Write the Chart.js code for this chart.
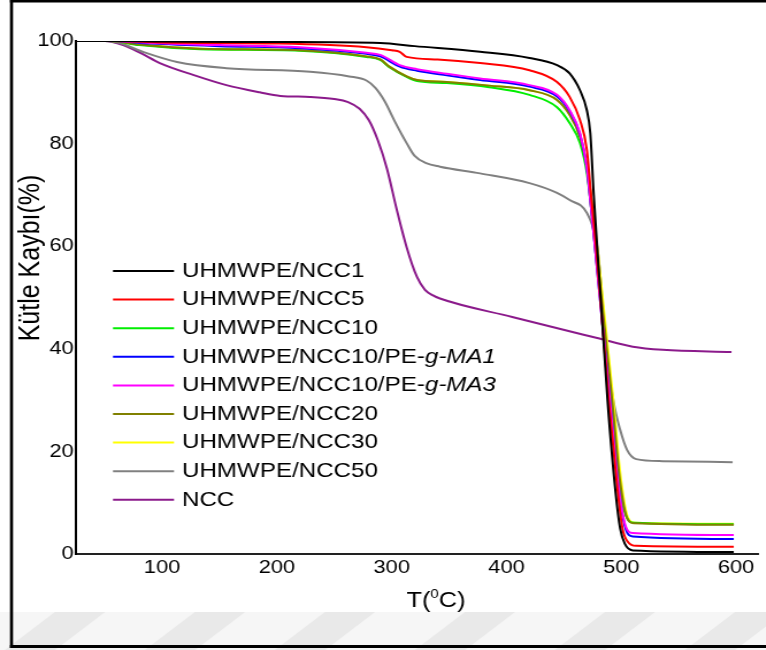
<!DOCTYPE html>
<html>
<head>
<meta charset="utf-8">
<script src="https://cdn.jsdelivr.net/npm/chart.js@4.4.1/dist/chart.umd.min.js"></script>
<style>
  html, body { margin: 0; padding: 0; background: #fff; overflow: hidden; }
  /* the figure is laid out 666px wide and shown stretched to 766px */
  #wrap { position: absolute; left: 0; top: 0; width: 666px; height: 650px;
          transform: scaleX(1.15); transform-origin: 0 0; }
</style>
</head>
<body>
<div id="wrap"><canvas id="tga"></canvas></div>
<script>
// Axis ticks
const xTicks = [100, 200, 300, 400, 500, 600];
const yTicks = [0, 20, 40, 60, 80, 100];

// Thermogravimetric curves: temperature (°C) and remaining mass (%)
const tNCC1 = [25, 60, 100, 200, 290, 320, 377, 420, 444, 455, 464, 470, 473, 476, 482, 488, 495, 499, 503, 510, 598];
const wNCC1 = [100, 100, 99.9, 99.8, 99.6, 99.0, 97.9, 96.7, 95.3, 93.7, 90.4, 86.5, 82, 70, 50, 30, 12, 5, 2, 0.7, 0.4];

const tNCC5 = [25, 60, 100, 200, 278, 300, 307, 313, 340, 377, 420, 444, 455, 464, 470, 474, 478, 489, 496, 501, 506, 513, 598];
const wNCC5 = [100, 100, 99.7, 99.5, 98.8, 98.2, 97.9, 96.9, 96.4, 95.7, 94.3, 92.0, 89.1, 84.6, 78.8, 69, 60, 30, 14, 5, 2.3, 1.6, 1.4];

const tNCC10 = [25, 55, 80, 133, 220, 278, 290, 298, 313, 322, 348, 385, 420, 444, 455, 464, 470, 473, 478, 491, 498, 504, 511, 598];
const wNCC10 = [100, 100, 99.2, 98.4, 98.1, 96.9, 96.3, 94.9, 93.0, 92.2, 91.8, 91.0, 89.5, 87.1, 84.0, 80.1, 74.3, 69, 58, 30, 14, 7.5, 6.1, 5.8];

const tMA1 = [25, 55, 90, 150, 220, 278, 290, 307, 322, 348, 377, 420, 444, 455, 464, 470, 473, 477, 490, 497, 503, 510, 598];
const wMA1 = [100, 100, 99.5, 99.0, 98.6, 97.5, 97.0, 95.0, 94.2, 93.3, 92.4, 91.1, 89.2, 86.3, 81.8, 75.2, 69, 60, 30, 14, 5.5, 3.4, 2.9];

const tMA3 = [25, 55, 90, 150, 220, 278, 290, 307, 322, 348, 377, 420, 444, 455, 464, 470, 473, 477, 490, 497, 503, 510, 598];
const wMA3 = [100, 100, 99.6, 99.2, 98.8, 97.7, 97.3, 95.3, 94.5, 93.6, 92.7, 91.4, 89.5, 86.5, 82, 75.4, 69, 60, 30, 14, 6, 4.1, 3.7];

const tNCC20 = [25, 55, 80, 133, 220, 278, 290, 298, 313, 322, 348, 385, 420, 444, 455, 464, 470, 474, 479, 492, 499, 505, 511, 598];
const wNCC20 = [100, 100, 99.3, 98.5, 98.2, 97.0, 96.4, 95.0, 93.1, 92.4, 92.0, 91.3, 90.4, 88.5, 85.6, 81.3, 75.5, 69, 58, 30, 14, 7, 6.0, 5.7];

const tNCC30 = [25, 55, 80, 133, 220, 278, 290, 298, 313, 322, 348, 385, 420, 444, 455, 464, 470, 474, 480, 493, 500, 506, 512, 598];
const wNCC30 = [100, 100, 99.3, 98.5, 98.2, 97.0, 96.4, 95.0, 93.1, 92.4, 92.0, 91.3, 90.4, 88.5, 85.6, 81.3, 75.5, 69, 58, 30, 14, 7, 6.1, 5.9];

const tNCC50 = [25, 50, 63, 83, 113, 156, 229, 263, 278, 286, 294, 303, 313, 320, 330, 342, 377, 420, 444, 455, 470, 478, 481, 487, 493, 499, 505, 513, 536, 597];
const wNCC50 = [100, 100, 99.6, 97.9, 95.9, 94.7, 94.0, 93.1, 92.3, 90.8, 88.2, 84.2, 80.1, 77.6, 76.2, 75.5, 74.2, 72.3, 70.4, 69.0, 66.5, 61.2, 56, 40, 30, 24.2, 20.3, 18.5, 18.1, 17.9];

const tNCC = [25, 50, 66, 81, 98, 127, 156, 185, 203, 229, 250, 262, 272, 280, 288, 296, 304, 313, 322, 329, 336, 342, 405, 479, 510, 536, 596];
const wNCC = [100, 100, 99.2, 97.7, 95.7, 93.4, 91.4, 90.0, 89.3, 89.1, 88.7, 88.1, 86.8, 84.6, 80.6, 75.0, 67.5, 59.8, 54.0, 51.5, 50.4, 49.8, 46.2, 42.1, 40.4, 39.8, 39.4];

// Series names and colours, in legend order
const seriesNames = ['UHMWPE/NCC1', 'UHMWPE/NCC5', 'UHMWPE/NCC10', 'UHMWPE/NCC10/PE-g-MA1',
                     'UHMWPE/NCC10/PE-g-MA3', 'UHMWPE/NCC20', 'UHMWPE/NCC30', 'UHMWPE/NCC50', 'NCC'];
const seriesColors = ['#000000', '#ff0000', '#00ee00', '#0000ff', '#ff00ff', '#808000', '#ffff00', '#808080', '#8b1a8b'];
const seriesT = [tNCC1, tNCC5, tNCC10, tMA1, tMA3, tNCC20, tNCC30, tNCC50, tNCC];
const seriesW = [wNCC1, wNCC5, wNCC10, wMA1, wMA3, wNCC20, wNCC30, wNCC50, wNCC];
// lower value is painted later (on top)
const drawOrder = [1, 2, 6, 4, 3, 5, 7, 8, 9];

const SX = 1.15;               // horizontal stretch of the figure
const FONT = '"Liberation Sans", Arial, sans-serif';

const datasets = seriesNames.map((name, i) => ({
  label: name,
  data: seriesT[i].map((t, k) => ({ x: t, y: seriesW[i][k] })),
  borderColor: seriesColors[i],
  backgroundColor: seriesColors[i],
  borderWidth: 2,
  pointRadius: 0,
  fill: false,
  cubicInterpolationMode: 'monotone',
  order: drawOrder[i]
}));

const decor = {
  id: 'decor',
  beforeDraw(chart) {
    const ctx = chart.ctx;
    ctx.save();
    ctx.fillStyle = '#ffffff';
    ctx.fillRect(0, 0, chart.width, chart.height);
    // faint diagonal watermark bands along the bottom margin
    ctx.fillStyle = '#f6f6f6';
    ctx.fillRect(0, 612, chart.width, 38);
    ctx.fillStyle = '#e9e9e9';
    [30, 170, 300, 440, 580, 710].forEach(cx => {
      ctx.beginPath();
      ctx.moveTo((cx - 25) / SX, 650);
      ctx.lineTo((cx + 25) / SX, 650);
      ctx.lineTo((cx + 75) / SX, 612);
      ctx.lineTo((cx + 25) / SX, 612);
      ctx.closePath();
      ctx.fill();
    });
    ctx.restore();
  },
  afterDraw(chart) {
    const ctx = chart.ctx;
    ctx.save();
    // legend
    const lx0 = 113 / SX, lx1 = 174 / SX, tx = 182 / SX;
    ctx.textBaseline = 'middle';
    seriesNames.forEach((name, i) => {
      const y = 271 + i * 28.6;
      ctx.strokeStyle = seriesColors[i];
      ctx.lineWidth = 2;
      ctx.beginPath();
      ctx.moveTo(lx0, y);
      ctx.lineTo(lx1, y);
      ctx.stroke();
      ctx.fillStyle = '#000';
      const cut = name.indexOf('g-MA');
      if (cut >= 0) {
        const plain = name.slice(0, cut), ital = name.slice(cut);
        ctx.font = '21px ' + FONT;
        ctx.fillText(plain, tx, y);
        const w = ctx.measureText(plain).width;
        ctx.font = 'italic 21px ' + FONT;
        ctx.fillText(ital, tx + w, y);
      } else {
        ctx.font = '21px ' + FONT;
        ctx.fillText(name, tx, y);
      }
    });
    // y axis title
    ctx.save();
    ctx.translate(31 / SX, 258);
    ctx.rotate(-Math.PI / 2);
    ctx.textAlign = 'center';
    ctx.textBaseline = 'middle';
    ctx.font = '25px ' + FONT;
    ctx.fillStyle = '#000';
    ctx.fillText('Kütle Kaybı(%)', 0, 0);
    ctx.restore();
    // x axis title with superscript degree zero
    ctx.textBaseline = 'alphabetic';
    ctx.textAlign = 'left';
    ctx.fillStyle = '#000';
    const big = '22px ' + FONT, small = '13px ' + FONT;
    ctx.font = big; const w1 = ctx.measureText('T(').width;
    ctx.font = small; const w2 = ctx.measureText('0').width;
    ctx.font = big; const w3 = ctx.measureText('C)').width;
    let x = 436 / SX - (w1 + w2 + w3) / 2;
    const base = 607;
    ctx.font = big; ctx.fillText('T(', x, base); x += w1;
    ctx.font = small; ctx.fillText('0', x, base - 9); x += w2;
    ctx.font = big; ctx.fillText('C)', x, base);
    // outer frame
    ctx.fillStyle = '#000';
    ctx.fillRect(10 / SX, 0, chart.width, 2.5);
    ctx.fillRect(10 / SX, 0, 3 / SX, 648);
    ctx.fillRect(10 / SX, 645, chart.width, 3);
    ctx.restore();
  }
};

new Chart(document.getElementById('tga'), {
  type: 'line',
  data: { datasets },
  options: {
    responsive: true,
    maintainAspectRatio: false,
    animation: false,
    events: [],
    layout: { padding: { left: 0, right: 666.09 - 758 / SX, top: 41, bottom: 0 } },
    plugins: { legend: { display: false }, tooltip: { enabled: false }, title: { display: false } },
    scales: {
      x: {
        type: 'linear',
        min: 25,
        max: 619,
        afterBuildTicks: s => { s.ticks = xTicks.map(v => ({ value: v })); },
        afterFit: s => { s.height = 96; },
        grid: { display: false, drawTicks: false },
        border: { display: true, color: '#222', width: 2 },
        ticks: { color: '#000', font: { family: FONT, size: 19 }, padding: 2, maxRotation: 0, autoSkip: false }
      },
      y: {
        type: 'linear',
        min: 0,
        max: 100,
        afterBuildTicks: s => { s.ticks = yTicks.map(v => ({ value: v })); },
        afterFit: s => { s.width = 76 / SX; },
        grid: { display: false, drawTicks: false },
        border: { display: true, color: '#000', width: 2 },
        ticks: { color: '#000', font: { family: FONT, size: 19 }, padding: 2, autoSkip: false }
      }
    }
  },
  plugins: [decor]
});
</script>
</body>
</html>
